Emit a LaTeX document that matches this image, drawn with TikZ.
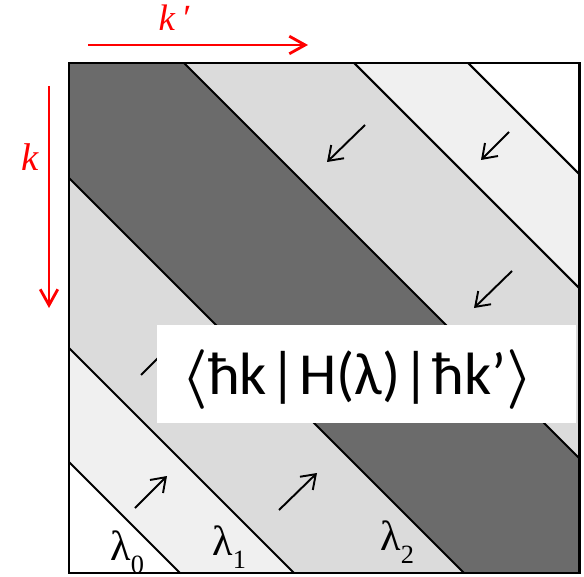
\RequirePackage{fix-cm}
\documentclass[tikz,border=0pt]{standalone}
\usepackage{fontspec}
\setmainfont{Liberation Serif}
\newfontfamily\boxfont{Carlito}
\usetikzlibrary{arrows.meta}
\newcommand{\lam}[1]{λ\raisebox{-0.32em}{\fontsize{15}{15}\selectfont #1}}

\begin{document}
\begin{tikzpicture}[x=0.02cm,y=-0.02cm,
  band/.style={draw=black,line width=1.2pt},
  flow/.style={line width=1.1pt,-{Straight Barb[length=7.5pt,width=10.5pt]}},
  axis/.style={red,line width=1.6pt,-{Straight Barb[length=9pt,width=10pt]}},
  lab/.style={font=\fontsize{24}{24}\selectfont,anchor=base west,inner sep=0pt}]
\useasboundingbox (0,0) rectangle (584,577);
\begin{scope}[shift={(69,63)}]
\fill[black!6] (0,0) rectangle (510,510);
\fill[white] (399,0) -- (510,0) -- (510,111) -- cycle;
\fill[white] (0,399) -- (0,510) -- (111,510) -- cycle;
\fill[black!14] (0,0) -- (285,0) -- (510,225) -- (510,510) -- (225,510) -- (0,285) -- cycle;
\fill[black!58] (0,0) -- (115,0) -- (510,395) -- (510,510) -- (395,510) -- (0,115) -- cycle;
\foreach \c in {115,285,399}{
  \draw[band] (\c,0) -- (510,510-\c);
  \draw[band] (0,\c) -- (510-\c,510);
}
\end{scope}
\draw[flow] (365,125) -- (327,162);
\draw[flow] (512,271) -- (474,308);
\draw[flow] (509,132) -- (481,160);
\draw[flow] (135,508) -- (167,476);
\draw[flow] (279,510) -- (317,473);
\draw[flow] (141,375) -- (178,338);
\node[fill=white,inner sep=0pt,minimum width=8.38cm,minimum height=1.96cm] (box) at (366.5,374) {};
\node[font=\boxfont\fontsize{34}{34}\selectfont,anchor=base west,inner sep=0pt] (elem) at (181,394)
  {{\boldmath$\langle$}ħk\hspace{0.04em}|\hspace{0.04em}H(λ)\hspace{0.04em}|\hspace{0.04em}ħk’{\boldmath$\rangle$}};
\draw[line width=1.7pt] (69,63) rectangle (579,573);
\node[lab] (l0) at (110,560) {\lam{0}};
\node[lab] (l1) at (212,555) {\lam{1}};
\node[lab] (l2) at (380,550) {\lam{2}};
\draw[axis] (88,45) -- (308,45);
\draw[axis] (49,86) -- (49,308);
\node[red,font=\fontsize{21}{21}\selectfont\itshape] (kp) at (174,18) {k\,′};
\node[red,font=\fontsize{22}{22}\selectfont\itshape] (k) at (30,157) {k};
\end{tikzpicture}
\end{document}
